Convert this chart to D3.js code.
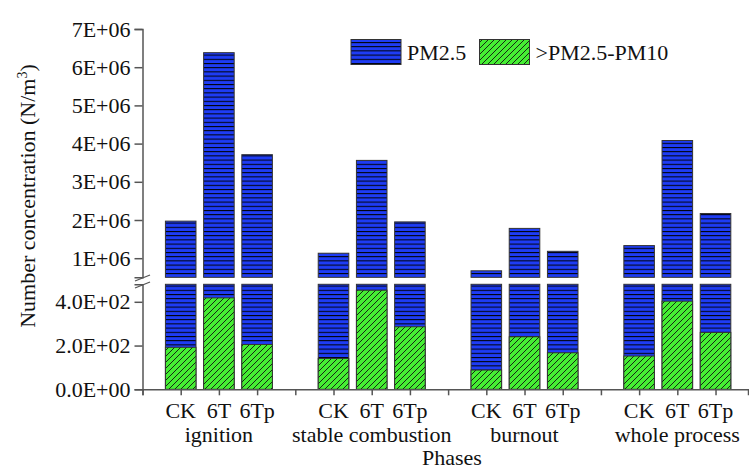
<!DOCTYPE html>
<html>
<head>
<meta charset="utf-8">
<script src="https://cdn.jsdelivr.net/npm/d3@7"></script>
<style>
  body { margin: 0; background: #fff; }
  svg text { font-family: "Liberation Serif", "Times New Roman", Times, "DejaVu Serif", serif !important; fill: #111; }
</style>
</head>
<body>
<svg id="chart" width="749" height="470"></svg>
<script>
// data
const phases = ["ignition", "stable combustion", "burnout", "whole process"];
const treatments = ["CK", "6T", "6Tp"];
// PM2.5 number concentration (N/m3), per phase x treatment
const pm25 = [1.97e6, 6.38e6, 3.71e6, 1.13e6, 3.56e6, 1.95e6, 0.67e6, 1.78e6, 1.18e6, 1.33e6, 4.08e6, 2.17e6];
// >PM2.5-PM10 number concentration
const coarse = [192, 418, 205, 141, 453, 286, 88, 240, 167, 152, 403, 260];
const upperTicks = [1e6, 2e6, 3e6, 4e6, 5e6, 6e6, 7e6];
const lowerTicks = [0, 200, 400];

const svg = d3.select("#chart");
const axisColor = "#555";
const serif = '"Liberation Serif", "Times New Roman", Times, "DejaVu Serif", serif';
const fs = "22px";

const rows = [];
phases.forEach((p, g) => treatments.forEach((t, i) => {
  const k = g * 3 + i;
  rows.push({ phase: p, treat: t, slot: g * 4 + i + 1, pm25: pm25[k], coarse: coarse[k] });
}));

const x = d3.scaleLinear().domain([0, 15.85]).range([142.5, 748]);
const yUp = d3.scaleLinear().domain([0.5e6, 7e6]).range([277.3, 29]);
const yLo = d3.scaleLinear().domain([0, 480]).range([389.3, 284.3]);
const bw = (x(1) - x(0)) * 0.8;

// patterns
const defs = svg.append("defs");
const pb = defs.append("pattern").attr("id", "blueHatch")
  .attr("patternUnits", "userSpaceOnUse").attr("width", 8).attr("height", 4.2);
pb.append("rect").attr("width", 8).attr("height", 4.2).attr("fill", "#1e3cf5");
pb.append("line").attr("x1", 0).attr("x2", 8).attr("y1", 0.5).attr("y2", 0.5)
  .attr("stroke", "#000").attr("stroke-width", 1);

const pg = defs.append("pattern").attr("id", "greenHatch")
  .attr("patternUnits", "userSpaceOnUse").attr("width", 6).attr("height", 6);
pg.append("rect").attr("width", 6).attr("height", 6).attr("fill", "#45ee33");
pg.append("path").attr("d", "M-1,7 L7,-1 M-2,2 L2,-2 M4,8 L8,4")
  .attr("stroke", "#111").attr("stroke-width", 0.9);

const barStroke = "#333";

// upper panel bars (totals)
svg.append("g").selectAll("rect").data(rows).join("rect")
  .attr("x", d => x(d.slot) - bw / 2)
  .attr("width", bw)
  .attr("y", d => yUp(d.pm25 + d.coarse))
  .attr("height", d => yUp(0.5e6) - yUp(d.pm25 + d.coarse))
  .attr("fill", "url(#blueHatch)")
  .attr("stroke", barStroke).attr("stroke-width", 1);

// lower panel: blue runs past the break, green stacked at the bottom
svg.append("g").selectAll("rect").data(rows).join("rect")
  .attr("x", d => x(d.slot) - bw / 2)
  .attr("width", bw)
  .attr("y", yLo(480))
  .attr("height", yLo(0) - yLo(480))
  .attr("fill", "url(#blueHatch)")
  .attr("stroke", barStroke).attr("stroke-width", 1);

svg.append("g").selectAll("rect").data(rows).join("rect")
  .attr("x", d => x(d.slot) - bw / 2)
  .attr("width", bw)
  .attr("y", d => yLo(d.coarse))
  .attr("height", d => yLo(0) - yLo(d.coarse))
  .attr("fill", "url(#greenHatch)")
  .attr("stroke", barStroke).attr("stroke-width", 1);

// axes
const fmtUp = d => d3.format(".0e")(d).replace("e+", "E+0").toUpperCase();
const fmtLo = d => d3.format(".1e")(d).replace("e+", "E+0").toUpperCase();

function styleAxis(g) {
  g.attr("font-family", null).attr("font-size", null);
  g.select(".domain").attr("stroke", axisColor).attr("stroke-width", 1.5);
  g.selectAll(".tick line").attr("stroke", axisColor).attr("stroke-width", 1.5);
  g.selectAll(".tick text").style("font-size", fs)
    .style("font-family", serif).attr("fill", "#111");
}

svg.append("g").attr("transform", "translate(142.5,0)")
  .call(d3.axisLeft(yUp).tickValues(upperTicks).tickFormat(fmtUp).tickSizeOuter(0).tickSize(8).tickPadding(4))
  .call(styleAxis);

svg.append("g").attr("transform", "translate(142.5,0)")
  .call(d3.axisLeft(yLo).tickValues(lowerTicks).tickFormat(fmtLo).tickSizeOuter(0).tickSize(8).tickPadding(4))
  .call(styleAxis);

svg.append("g").attr("transform", `translate(0,${yLo(0)})`)
  .call(d3.axisBottom(x).tickValues(d3.range(0, 16)).tickFormat("").tickSizeOuter(0).tickSize(6))
  .call(styleAxis);

// break marks
const brk = svg.append("g").attr("stroke", axisColor).attr("stroke-width", 1.3);
brk.append("line").attr("x1", 135).attr("y1", 281).attr("x2", 150).attr("y2", 275);
brk.append("line").attr("x1", 135).attr("y1", 288).attr("x2", 150).attr("y2", 282);

// category labels
svg.append("g").selectAll("text").data(rows).join("text")
  .attr("x", d => x(d.slot)).attr("y", 418)
  .attr("text-anchor", "middle").style("font-size", fs)
  .text(d => d.treat);

svg.append("g").selectAll("text").data(phases).join("text")
  .attr("x", (d, g) => x(g * 4 + 2)).attr("y", 442)
  .attr("text-anchor", "middle").style("font-size", fs)
  .text(d => d);

svg.append("text").attr("x", 452).attr("y", 465)
  .attr("text-anchor", "middle").style("font-size", fs).text("Phases");

const yt = svg.append("text")
  .attr("transform", "translate(35,196) rotate(-90)")
  .attr("text-anchor", "middle").style("font-size", fs);
yt.append("tspan").text("Number concentration (N/m");
yt.append("tspan").style("font-size", "14px").attr("dy", -8).text("3");
yt.append("tspan").attr("dy", 8).text(")");

// legend
const legend = [
  { label: "PM2.5", fill: "url(#blueHatch)", x: 351 },
  { label: ">PM2.5-PM10", fill: "url(#greenHatch)", x: 479.5 }
];
const lg = svg.append("g").selectAll("g").data(legend).join("g");
lg.append("rect").attr("x", d => d.x).attr("y", 39.5).attr("width", 50).attr("height", 25)
  .attr("fill", d => d.fill).attr("stroke", barStroke).attr("stroke-width", 1);
lg.append("text").attr("x", d => d.x + 56).attr("y", 60).style("font-size", fs).text(d => d.label);
</script>
</body>
</html>
